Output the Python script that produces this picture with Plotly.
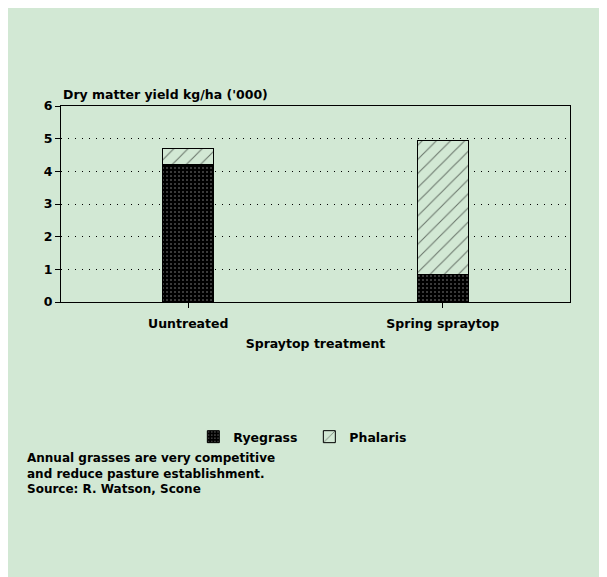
import plotly.graph_objects as go

categories = ["Uuntreated", "Spring spraytop"]
ryegrass = [4.2, 0.83]
phalaris = [0.5, 4.12]
y_ticks = [0, 1, 2, 3, 4, 5, 6]
note_lines = ["Annual grasses are very competitive",
              "and reduce pasture establishment.",
              "Source: R. Watson, Scone"]

BG = "#d2e8d4"
FONT = dict(family="DejaVu Sans, Liberation Sans, sans-serif", size=12.5, color="black", weight="bold")
NOTE_FONT = dict(FONT, size=12)

fig = go.Figure()
fig.add_trace(go.Bar(
    x=categories, y=ryegrass, name="Ryegrass",
    marker=dict(color="black", line=dict(color="black", width=1),
                pattern=dict(shape=".", fgcolor="#9a9a9a", bgcolor="black", size=4, solidity=0.2)),
))
fig.add_trace(go.Bar(
    x=categories, y=phalaris, name="Phalaris",
    marker=dict(color=BG, line=dict(color="black", width=1),
                pattern=dict(shape="/", fgcolor="black", bgcolor=BG, size=10, solidity=0.1)),
))

annotations = [
    dict(text="Dry matter yield kg/ha ('000)", xref="paper", yref="paper",
         x=0.0, y=1.01, xanchor="left", yanchor="bottom", showarrow=False,
         font=FONT),
    dict(text="<br>".join(note_lines), xref="paper", yref="paper", x=-0.0707, y=-0.873,
         xanchor="left", yanchor="middle", align="left",
         showarrow=False, font=NOTE_FONT),
]

fig.update_layout(
    barmode="stack",
    bargap=0.8,
    width=607, height=577,
    paper_bgcolor=BG, plot_bgcolor=BG,
    font=FONT,
    margin=dict(l=53, r=45, t=98, b=283),
    showlegend=True,
    legend=dict(orientation="h", traceorder="normal", x=0.26, y=-0.689,
                xanchor="left", yanchor="middle", entrywidth=71,
                bgcolor="rgba(0,0,0,0)", font=FONT),
    xaxis=dict(
        showline=True, linecolor="black", linewidth=1, mirror=True,
        ticks="outside", ticklen=5, tickcolor="black", ticklabelstandoff=5,
        showgrid=False,
        title=dict(text="Spraytop treatment", standoff=9, font=FONT),
    ),
    yaxis=dict(
        range=[0, 6], tickvals=y_ticks,
        showline=True, linecolor="black", linewidth=1, mirror=True,
        ticks="outside", ticklen=5, tickcolor="black",
        showgrid=True, gridcolor="black", gridwidth=1, griddash="1px,6px",
        zeroline=False,
    ),
    annotations=annotations,
)

fig.write_html("out.html")
